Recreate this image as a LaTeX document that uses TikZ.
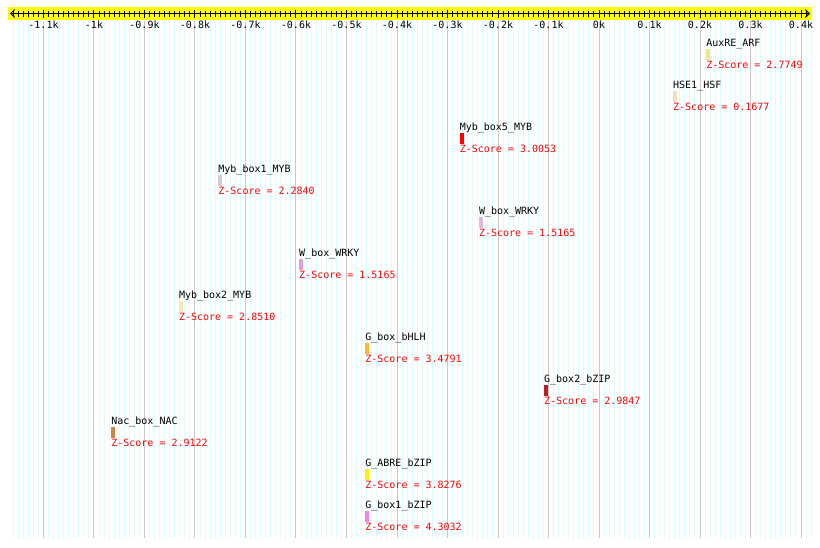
\documentclass[tikz,border=0pt]{standalone}
\usepackage{fontspec}
\usepackage{xcolor}
\usepackage{tikz}
\usetikzlibrary{arrows.meta,positioning}
\definecolor{rulebar} {HTML}{FFFF00}
\definecolor{gridmin} {HTML}{D6FFFF}
\definecolor{gridmaj} {HTML}{C8C8C8}
\definecolor{zred}    {HTML}{FF0000}
\definecolor{khaki}   {HTML}{F0E68C}
\definecolor{wheat}   {HTML}{F5DEB3}
\definecolor{thistle} {HTML}{D8C8DC}
\definecolor{lilac}   {HTML}{DDB8E0}
\definecolor{plum}    {HTML}{DDA0DD}
\definecolor{moccasin}{HTML}{FFE4B5}
\definecolor{amber}   {HTML}{FFB733}
\definecolor{brick}   {HTML}{B22222}
\definecolor{peru}    {HTML}{CD853F}
\definecolor{lemon}   {HTML}{FFF000}
\definecolor{violet}  {HTML}{EE82EE}
\newfontfamily\pixfam{DejaVu Sans Mono}
\newcommand{\pixsize}{\fontsize{10}{12}\selectfont}
\tikzset{
  hit/.style={rectangle, inner sep=0pt, minimum width=4pt, minimum height=10.5pt, anchor=north west},
  hitname/.style={inner sep=0pt, font=\pixsize\pixfam},
  hitscore/.style={inner sep=0pt, font=\pixsize\pixfam, text=zred},
  ticklabel/.style={inner sep=0pt, anchor=base, font=\pixsize\pixfam},
}
% #1 row, #2 position (bp), #3 colour, #4 motif, #5 z-score
\newcommand{\motif}[5]{%
  \node[hit, fill=#3] (m#1) at (#2,{49+42*#1}) {};
  \node[hitname, above=3pt of m#1.north west, anchor=base west] (n#1) {#4};
  \node[hitscore, below=8.5pt of m#1.south west, anchor=base west] (s#1) {Z-Score = #5};
}

\begin{document}
\begin{tikzpicture}[x=0.505pt, y=-1pt]
  \useasboundingbox (-1186.14,0) rectangle (437.62,547);
  % grid
  \foreach \v in {-1160,-1150,...,420}
    \draw[gridmin, line width=1pt] (\v,21) -- (\v,538);
  \foreach \v in {-1100,-1000,...,400}
    \draw[gridmaj, line width=1pt] (\v,21) -- (\v,538);
  % ruler
  \fill[rulebar] (-1170.3,7) rectangle (421.8,20);
  \draw[line width=1pt, {Straight Barb[length=4pt,width=8pt]}-{Straight Barb[length=4pt,width=8pt]}]
    (-1166.3,13.5) -- (417.8,13.5);
  \foreach \v in {-1160,-1150,...,410}
    \draw[line width=1pt] (\v,11) -- (\v,16.5);
  \foreach \v/\t [count=\i] in {-1100/-1.1k,-1000/-1k,-900/-0.9k,-800/-0.8k,-700/-0.7k,
      -600/-0.6k,-500/-0.5k,-400/-0.4k,-300/-0.3k,-200/-0.2k,-100/-0.1k,0/0k,
      100/0.1k,200/0.2k,300/0.3k,400/0.4k}
  {
    \draw[line width=1pt] (\v,9.5) -- (\v,17.5);
    \node[ticklabel] (tick\i) at (\v,28.5) {\t};
  }
  % motif hits
  \motif{0}{212}{khaki}{AuxRE\_ARF}{2.7749}
  \motif{1}{146.5}{wheat}{HSE1\_HSF}{0.1677}
  \motif{2}{-276}{zred}{Myb\_box5\_MYB}{3.0053}
  \motif{3}{-754}{thistle}{Myb\_box1\_MYB}{2.2840}
  \motif{4}{-238}{lilac}{W\_box\_WRKY}{1.5165}
  \motif{5}{-594}{plum}{W\_box\_WRKY}{1.5165}
  \motif{6}{-832}{moccasin}{Myb\_box2\_MYB}{2.8510}
  \motif{7}{-463}{amber}{G\_box\_bHLH}{3.4791}
  \motif{8}{-109}{brick}{G\_box2\_bZIP}{2.9847}
  \motif{9}{-966}{peru}{Nac\_box\_NAC}{2.9122}
  \motif{10}{-463}{lemon}{G\_ABRE\_bZIP}{3.8276}
  \motif{11}{-463}{violet}{G\_box1\_bZIP}{4.3032}
\end{tikzpicture}
\end{document}
